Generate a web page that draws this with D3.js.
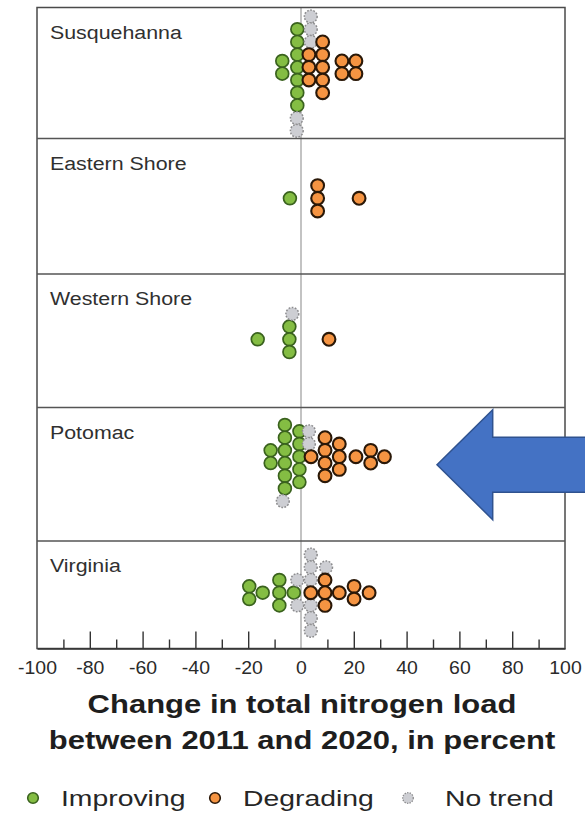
<!DOCTYPE html>
<html>
<head>
<meta charset="utf-8">
<script src="https://cdn.jsdelivr.net/npm/d3@7"></script>
<style>
  body { margin: 0; background: #fff; }
  svg { display: block; }
  text { font-family: "Liberation Sans", Arial, Helvetica, sans-serif; }
</style>
</head>
<body>
<svg id="chart" width="585" height="815"></svg>
<script>
// Regions, top to bottom
const regions = ["Susquehanna", "Eastern Shore", "Western Shore", "Potomac", "Virginia"];

// Monitoring sites: [region index, change in load (%), stack slot within its column]
const improving = [
  [0, -7.1, -0.5], [0, -7.1, 0.5],
  [0, -1.4, -3], [0, -1.4, -2], [0, -1.4, -1], [0, -1.4, 0], [0, -1.4, 1], [0, -1.4, 2], [0, -1.4, 3],
  [1, -4.2, 0],
  [2, -16.4, 0], [2, -4.4, -1], [2, -4.4, 0], [2, -4.4, 1],
  [3, -11.5, -0.5], [3, -11.5, 0.5],
  [3, -6.1, -2.5], [3, -6.1, -1.5], [3, -6.1, -0.5], [3, -6.1, 0.5], [3, -6.1, 1.5], [3, -6.1, 2.5],
  [3, -0.6, -2], [3, -0.6, -1], [3, -0.6, 0], [3, -0.6, 1], [3, -0.6, 2],
  [4, -19.6, -0.5], [4, -19.6, 0.5], [4, -14.5, 0],
  [4, -8.2, -1], [4, -8.2, 0], [4, -8.2, 1], [4, -2.7, 0]
];
const degrading = [
  [0, 3.0, -1], [0, 3.0, 0], [0, 3.0, 1],
  [0, 8.2, -2], [0, 8.2, -1], [0, 8.2, 0], [0, 8.2, 1], [0, 8.2, 2],
  [0, 15.5, -0.5], [0, 15.5, 0.5], [0, 20.8, -0.5], [0, 20.8, 0.5],
  [1, 6.3, -1], [1, 6.3, 0], [1, 6.3, 1], [1, 22.0, 0],
  [2, 10.6, 0],
  [3, 3.8, 0],
  [3, 9.1, -1.5], [3, 9.1, -0.5], [3, 9.1, 0.5], [3, 9.1, 1.5],
  [3, 14.5, -1], [3, 14.5, 0], [3, 14.5, 1],
  [3, 20.8, 0], [3, 26.4, -0.5], [3, 26.4, 0.5], [3, 31.6, 0],
  [4, 3.7, 0], [4, 9.1, -1], [4, 9.1, 0], [4, 9.1, 1],
  [4, 14.5, 0], [4, 20.1, -0.5], [4, 20.1, 0.5], [4, 25.8, 0]
];
const noTrend = [
  [0, 3.7, -4], [0, 3.7, -3], [0, 3.7, -2], [0, -1.6, 4], [0, -1.6, 5],
  [2, -3.3, -2],
  [3, 3.0, -2], [3, 3.0, -1], [3, -6.9, 3.5],
  [4, -1.4, -1], [4, -1.4, 1],
  [4, 3.7, -3], [4, 3.7, -2], [4, 3.7, -1], [4, 3.7, 1], [4, 3.7, 2], [4, 3.7, 3],
  [4, 9.5, -2]
];

// Axis ticks and legend entries
const majorTicks = [-100, -80, -60, -40, -20, 0, 20, 40, 60, 80, 100];
const minorTicks = [-90, -70, -50, -30, -10, 10, 30, 50, 70, 90];
const titleLines = ["Change in total nitrogen load", "between 2011 and 2020, in percent"];
const legendLabels = ["Improving", "Degrading", "No trend"];

// ---- layout ----
const frameLeft = 37, frameRight = 565, frameTop = 7.5, axisY = 648.5;
const panelTops = [7.5, 138.5, 274, 407.5, 541];
const clusterMid = [67.3, 198.3, 339.3, 456.7, 592.7];
const slotStep = 12.7, r = 6.4;
const textStretch = 1.2;

const styles = {
  improving: { fill: "#84bd43", stroke: "#3a621e", width: 1.7, dash: null },
  degrading: { fill: "#f59442", stroke: "#2a1808", width: 2.1, dash: null },
  noTrend:   { fill: "#cdced3", stroke: "#8c8c8e", width: 1.5, dash: "1.7 1.5" }
};

const svg = d3.select("#chart");
const x = d3.scaleLinear().domain([-100, 100]).range([frameLeft, frameRight]);
const slot = d3.scaleLinear().domain([0, 1]).range([0, slotStep]);

// zero reference line
svg.append("line")
  .attr("x1", x(0)).attr("x2", x(0))
  .attr("y1", frameTop).attr("y2", axisY)
  .attr("stroke", "#b4b4b4").attr("stroke-width", 1.6);

// panel frame and separators
svg.append("rect")
  .attr("x", frameLeft).attr("y", frameTop)
  .attr("width", frameRight - frameLeft).attr("height", axisY - frameTop)
  .attr("fill", "none").attr("stroke", "#4a4a4a").attr("stroke-width", 1.5);
svg.selectAll("line.sep").data(panelTops.slice(1)).join("line")
  .attr("class", "sep")
  .attr("x1", frameLeft).attr("x2", frameRight)
  .attr("y1", d => d).attr("y2", d => d)
  .attr("stroke", "#555").attr("stroke-width", 1.4);

// region names
svg.selectAll("text.region").data(regions).join("text")
  .attr("class", "region")
  .attr("transform", (d, i) => `translate(50,${panelTops[i] + 31}) scale(${textStretch},1)`)
  .attr("font-size", 17.8).attr("fill", "#303030")
  .text(d => d);

// x axis: minor ticks, then major ticks with labels
const minorAxis = d3.axisBottom(x).tickValues(minorTicks).tickSize(-9).tickSizeOuter(0).tickFormat("");
const gMinor = svg.append("g").attr("transform", `translate(0,${axisY})`).call(minorAxis);
gMinor.select(".domain").remove();

const majorAxis = d3.axisBottom(x).tickValues(majorTicks).tickSize(-17).tickSizeOuter(0)
  .tickPadding(13).tickFormat(d3.format("d"));
const gMajor = svg.append("g").attr("transform", `translate(0,${axisY})`).call(majorAxis);
gMajor.select(".domain").attr("stroke", "#333").attr("stroke-width", 1.5);
gMajor.selectAll(".tick line")
  .attr("stroke", "#333").attr("stroke-width", 1.4)
  .attr("display", d => (d === 0 || Math.abs(d) === 100) ? "none" : null);
gMinor.selectAll(".tick line").attr("stroke", "#333").attr("stroke-width", 1.4);
gMajor.selectAll(".tick text")
  .attr("font-size", 18).attr("fill", "#2a2a2a")
  .attr("transform", "scale(1.08,1)")
  .attr("font-family", "\"Liberation Sans\", Arial, sans-serif")
  .text(d => d < 0 ? "-" + Math.abs(d) : String(d));

// dots: improving, then no trend, then degrading on top
function drawDots(data, key) {
  const s = styles[key];
  svg.append("g").selectAll("circle").data(data).join("circle")
    .attr("cx", d => x(d[1]))
    .attr("cy", d => clusterMid[d[0]] + slot(d[2]))
    .attr("r", r)
    .attr("fill", s.fill)
    .attr("stroke", s.stroke)
    .attr("stroke-width", s.width)
    .attr("stroke-dasharray", s.dash);
}
drawDots(improving, "improving");
drawDots(noTrend, "noTrend");
drawDots(degrading, "degrading");

// annotation arrow pointing at the Potomac panel
const ay = clusterMid[3] + 8;
const arrow = d3.path();
arrow.moveTo(437, ay);
arrow.lineTo(492.7, ay - 55);
arrow.lineTo(492.7, ay - 27.5);
arrow.lineTo(590, ay - 27.5);
arrow.lineTo(590, ay + 27.5);
arrow.lineTo(492.7, ay + 27.5);
arrow.lineTo(492.7, ay + 55);
arrow.closePath();
svg.append("path").attr("d", arrow.toString())
  .attr("fill", "#4472c4").attr("stroke", "#2f528f").attr("stroke-width", 1.5);

// axis title
svg.selectAll("text.title").data(titleLines).join("text")
  .attr("class", "title")
  .attr("transform", (d, i) => `translate(302,${713 + i * 36}) scale(1.24,1)`)
  .attr("text-anchor", "middle")
  .attr("font-size", 25).attr("font-weight", "bold").attr("fill", "#1e1e1e")
  .text(d => d);

// legend
const legendKeys = ["improving", "degrading", "noTrend"];
const legendX = [33, 215, 408];
const legend = svg.append("g");
legendKeys.forEach((k, i) => {
  const s = styles[k];
  legend.append("circle")
    .attr("cx", legendX[i]).attr("cy", 798).attr("r", 5.3)
    .attr("fill", s.fill).attr("stroke", s.stroke)
    .attr("stroke-width", k === "noTrend" ? 1.3 : 1.6)
    .attr("stroke-dasharray", k === "noTrend" ? "1.4 1.2" : null);
  legend.append("text")
    .attr("transform", `translate(${legendX[i] + (k === "noTrend" ? 37 : 28)},806) scale(1.26,1)`)
    .attr("font-size", 22.5).attr("fill", "#262626")
    .text(legendLabels[i]);
});
</script>
</body>
</html>
